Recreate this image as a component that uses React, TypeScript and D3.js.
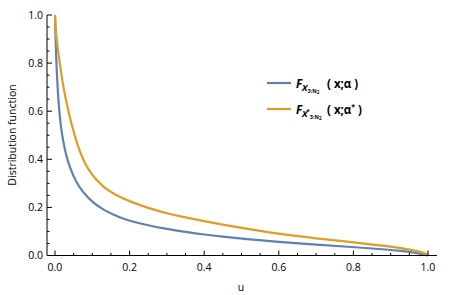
import * as d3 from 'd3';
import React, { useRef, useEffect } from 'react';

// values
const uBlue = [0, 0.001, 0.003, 0.006, 0.01, 0.015, 0.02, 0.03, 0.04, 0.055, 0.075, 0.1, 0.13, 0.17, 0.2, 0.25, 0.3, 0.35, 0.4, 0.45, 0.5, 0.6, 0.7, 0.8, 0.87, 0.93, 0.97, 1.0];
const vBlue = [1.0, 0.93, 0.83, 0.72, 0.625, 0.545, 0.49, 0.415, 0.365, 0.31, 0.262, 0.222, 0.189, 0.16, 0.144, 0.125, 0.11, 0.098, 0.087, 0.078, 0.07, 0.056, 0.045, 0.035, 0.027, 0.019, 0.011, 0.0];
const uOrange = [0, 0.002, 0.005, 0.01, 0.02, 0.03, 0.045, 0.06, 0.075, 0.09, 0.11, 0.13, 0.16, 0.2, 0.25, 0.3, 0.35, 0.4, 0.45, 0.5, 0.55, 0.6, 0.7, 0.8, 0.87, 0.93, 0.97, 1.0];
const vOrange = [1.0, 0.94, 0.89, 0.83, 0.72, 0.64, 0.54, 0.46, 0.40, 0.355, 0.315, 0.285, 0.253, 0.225, 0.197, 0.175, 0.158, 0.143, 0.128, 0.115, 0.102, 0.09, 0.071, 0.055, 0.042, 0.031, 0.02, 0.004];
const xTicks = [0, 0.2, 0.4, 0.6, 0.8, 1.0];
const yTicks = [0, 0.2, 0.4, 0.6, 0.8, 1.0];

const W = 454, H = 295;
const BLUE = '#5e81b5';
const ORANGE = '#e19c24';
const FONT = '"Open Sans", "Noto Sans", sans-serif';

function Chart() {
  const ref = useRef<SVGSVGElement>(null);

  useEffect(() => {
    const svg = d3.select(ref.current);
    svg.selectAll('*').remove();

    const x = d3.scaleLinear().domain([0, 1]).range([55, 428]);
    const y = d3.scaleLinear().domain([0, 1]).range([255.5, 15]);
    const x0 = 47, x1 = 437;

    const g = svg.append('g');

    // curves
    const line = d3.line<[number, number]>()
      .x(d => x(d[0]))
      .y(d => y(d[1]))
      .curve(d3.curveBasis);
    const blue: [number, number][] = uBlue.map((u, i) => [u, vBlue[i]]);
    const orange: [number, number][] = uOrange.map((u, i) => [u, vOrange[i]]);
    g.append('path').attr('d', line(blue)).attr('fill', 'none')
      .attr('stroke', BLUE).attr('stroke-width', 2.2);
    g.append('path').attr('d', line(orange)).attr('fill', 'none')
      .attr('stroke', ORANGE).attr('stroke-width', 2.2);

    // axes
    const ax = g.append('g').attr('stroke', '#000').attr('stroke-width', 1);
    ax.append('line').attr('x1', x0).attr('x2', x1).attr('y1', y(0)).attr('y2', y(0));
    ax.append('line').attr('x1', x0).attr('x2', x0).attr('y1', y(0)).attr('y2', y(1));

    const minor = d3.range(0, 1.0001, 0.05);
    minor.forEach(t => {
      const major = Math.abs(Math.round(t * 5) - t * 5) < 1e-6;
      ax.append('line').attr('x1', x(t)).attr('x2', x(t))
        .attr('y1', y(0)).attr('y2', y(0) - (major ? 5 : 2.5));
      ax.append('line').attr('y1', y(t)).attr('y2', y(t))
        .attr('x1', x0).attr('x2', x0 + (major ? 5 : 2.5));
    });

    const txt = g.append('g').attr('font-family', FONT).attr('font-size', 10.5).attr('fill', '#000');
    xTicks.forEach(t => {
      txt.append('text').attr('x', x(t)).attr('y', 271).attr('text-anchor', 'middle').text(t.toFixed(1));
    });
    yTicks.forEach(t => {
      txt.append('text').attr('x', 43).attr('y', y(t)).attr('dy', '0.35em')
        .attr('text-anchor', 'end').text(t.toFixed(1));
    });
    txt.append('text').attr('x', 241).attr('y', 291).attr('text-anchor', 'middle').text('u');
    txt.append('text').attr('transform', 'translate(16,135) rotate(-90)')
      .attr('text-anchor', 'middle').text('Distribution function');

    // legend
    const leg = g.append('g').attr('font-family', FONT).attr('font-weight', 'bold').attr('fill', '#000');
    const items = [
      { c: BLUE, y: 83, prime: false },
      { c: ORANGE, y: 109, prime: true },
    ];
    items.forEach(it => {
      leg.append('line').attr('x1', 267).attr('x2', 291).attr('y1', it.y).attr('y2', it.y)
        .attr('stroke', it.c).attr('stroke-width', 2.2);
      const t = leg.append('text').attr('x', 296).attr('y', it.y + 5).attr('font-size', 11.5);
      t.append('tspan').attr('font-style', 'italic').text('F');
      t.append('tspan').attr('font-style', 'italic').attr('font-size', 9).attr('dy', 3).text('X');
      if (it.prime) t.append('tspan').attr('font-size', 6).attr('dy', -4).attr('dx', -1).text('*');
      t.append('tspan').attr('font-size', 5.5).attr('dy', it.prime ? 6 : 2).text('3:N');
      t.append('tspan').attr('font-size', 4.5).attr('dy', 1).text('2');
      t.append('tspan').attr('x', 327).attr('y', it.y + 5).text('( x;α');
      if (it.prime) t.append('tspan').attr('font-size', 7).attr('dy', -5).text('*');
      t.append('tspan').attr('dy', it.prime ? 5 : 0).text(' )');
    });
  }, []);

  return <svg ref={ref} width={W} height={H} style={{ display: 'block', background: '#fff' }} />;
}

export default function App() {
  return (
    <div style={{ position: 'absolute', left: 0, top: 0 }}>
      <Chart />
    </div>
  );
}
